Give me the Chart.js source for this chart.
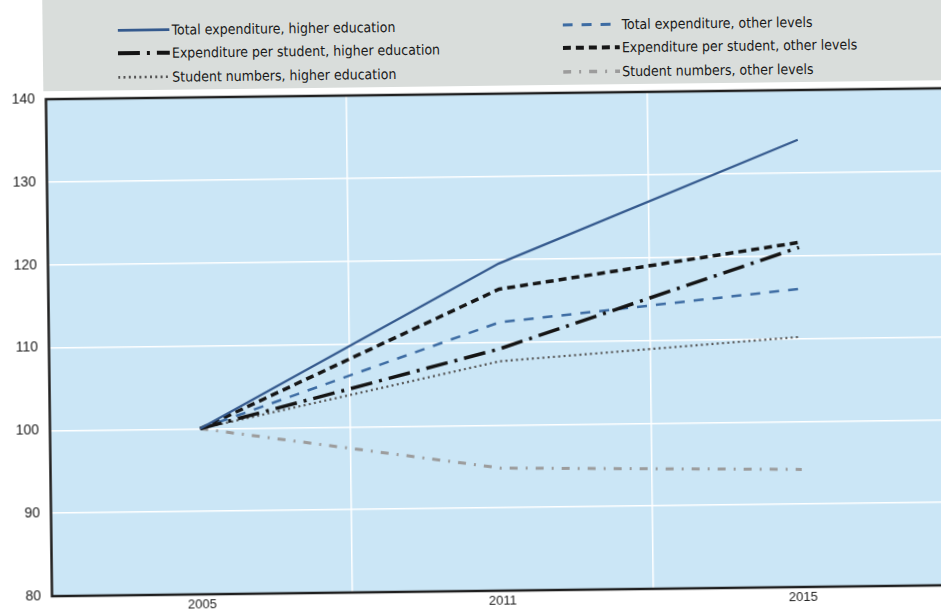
<!DOCTYPE html>
<html>
<head>
<meta charset="utf-8">
<title>Expenditure and student numbers</title>
<script src="https://cdn.jsdelivr.net/npm/chart.js@4.4.0/dist/chart.umd.min.js"></script>
<style>
  html, body { margin: 0; padding: 0; background: #fff; overflow: hidden; }
  /* the scanned page is slightly tilted */
  #page { position: relative; width: 950px; height: 613px; transform: rotate(-0.7deg); transform-origin: 475px 306px; }
  #band { position: absolute; left: 46px; top: -10px; width: 920px; height: 96px; background: #d9dddb; }
  #myChart { position: absolute; left: 0; top: 0; }
  .legend { position: absolute; top: 14px; font-family: "Liberation Sans Narrow", "DejaVu Sans Condensed", sans-serif; font-size: 14px; color: #1a1a1a; }
  .item { height: 23.5px; display: flex; align-items: center; white-space: nowrap; }
  .item svg { margin-right: 2px; }
</style>
</head>
<body>
<div id="page">
  <div id="band"></div>
  <div class="legend" id="legendLeft" style="left:121px"></div>
  <div class="legend" id="legendRight" style="left:566px"></div>
  <canvas id="myChart" width="950" height="613"></canvas>
</div>
<script>
// datos (indice 2005 = 100)
var years = ["2005", "2011", "2015"];
var totalHigher = [100, 119.5, 134.0];
var perStudentHigher = [100, 109.2, 121.0];
var studentsHigher = [100, 107.7, 110.2];
var totalOther = [100, 112.4, 116.0];
var perStudentOther = [100, 116.4, 121.6];
var studentsOther = [100, 94.8, 94.2];
var yTicks = [80, 90, 100, 110, 120, 130, 140];

// fondo azul y marco del grafico
var plotFrame = {
  id: "plotFrame",
  beforeDraw: function (chart) {
    var a = chart.chartArea, c = chart.ctx;
    c.save();
    c.fillStyle = "#cbe6f6";
    c.fillRect(a.left, a.top, a.right - a.left, a.bottom - a.top);
    c.restore();
  },
  afterDraw: function (chart) {
    var a = chart.chartArea, c = chart.ctx;
    c.save();
    c.strokeStyle = "#1f1f1f";
    c.lineWidth = 2.5;
    c.beginPath();
    c.moveTo(a.right, a.top);
    c.lineTo(a.left, a.top);
    c.lineTo(a.left, a.bottom);
    c.lineTo(a.right, a.bottom);
    c.stroke();
    c.restore();
  }
};

var ctx = document.getElementById("myChart").getContext("2d");

var chart = new Chart(ctx, {
  type: "line",
  data: {
    labels: years,
    datasets: [
      { label: "Total expenditure, higher education", data: totalHigher,
        borderColor: "#355a8e", borderWidth: 2.3, borderDash: [] },
      { label: "Expenditure per student, higher education", data: perStudentHigher,
        borderColor: "#141414", borderWidth: 3.5, borderDash: [22, 7, 3, 7] },
      { label: "Student numbers, higher education", data: studentsHigher,
        borderColor: "#555555", borderWidth: 2.2, borderDash: [2, 3.3] },
      { label: "Total expenditure, other levels", data: totalOther,
        borderColor: "#3d6ca3", borderWidth: 2.5, borderDash: [10, 9] },
      { label: "Expenditure per student, other levels", data: perStudentOther,
        borderColor: "#161616", borderWidth: 3.5, borderDash: [8, 5] },
      { label: "Student numbers, other levels", data: studentsOther,
        borderColor: "#9c9c9c", borderWidth: 3, borderDash: [8, 8, 2, 8] }
    ]
  },
  options: {
    responsive: false,
    animation: false,
    layout: { padding: { top: 94, right: 0, bottom: 0, left: 0 } },
    elements: {
      point: { radius: 0 },
      line: { tension: 0, fill: false, borderCapStyle: "butt" }
    },
    plugins: { legend: { display: false }, tooltip: { enabled: false } },
    scales: {
      x: {
        offset: true,
        grid: { offset: true, color: "#ffffff", lineWidth: 1.5, drawTicks: false },
        border: { display: false },
        ticks: { color: "#222", padding: 3, font: { family: "Liberation Sans, Arial, sans-serif", size: 13 } },
        afterFit: function (s) { s.height = 22; }
      },
      y: {
        min: yTicks[0],
        max: yTicks[yTicks.length - 1],
        ticks: { stepSize: 10, color: "#222", padding: 11, font: { family: "Liberation Sans, Arial, sans-serif", size: 14 } },
        grid: { color: "#ffffff", lineWidth: 1.5, drawTicks: false },
        border: { display: false },
        afterFit: function (s) { s.width = 48.5; }
      }
    }
  },
  plugins: [plotFrame]
});

// leyenda en dos columnas
chart.data.datasets.forEach(function (ds, i) {
  var col = document.getElementById(i < 3 ? "legendLeft" : "legendRight");
  var w = i < 3 ? 52 : 57;
  var item = document.createElement("div");
  item.className = "item";
  var dash = ds.borderDash.length ? ds.borderDash.join(" ") : "none";
  item.innerHTML =
    '<svg width="' + w + '" height="10"><line x1="0" y1="5" x2="' + w + '" y2="5" stroke="' + ds.borderColor +
    '" stroke-width="' + (ds.borderWidth + 0.5) + '" stroke-dasharray="' + dash + '"/></svg>' +
    "<span>" + ds.label + "</span>";
  col.appendChild(item);
});
</script>
</body>
</html>
